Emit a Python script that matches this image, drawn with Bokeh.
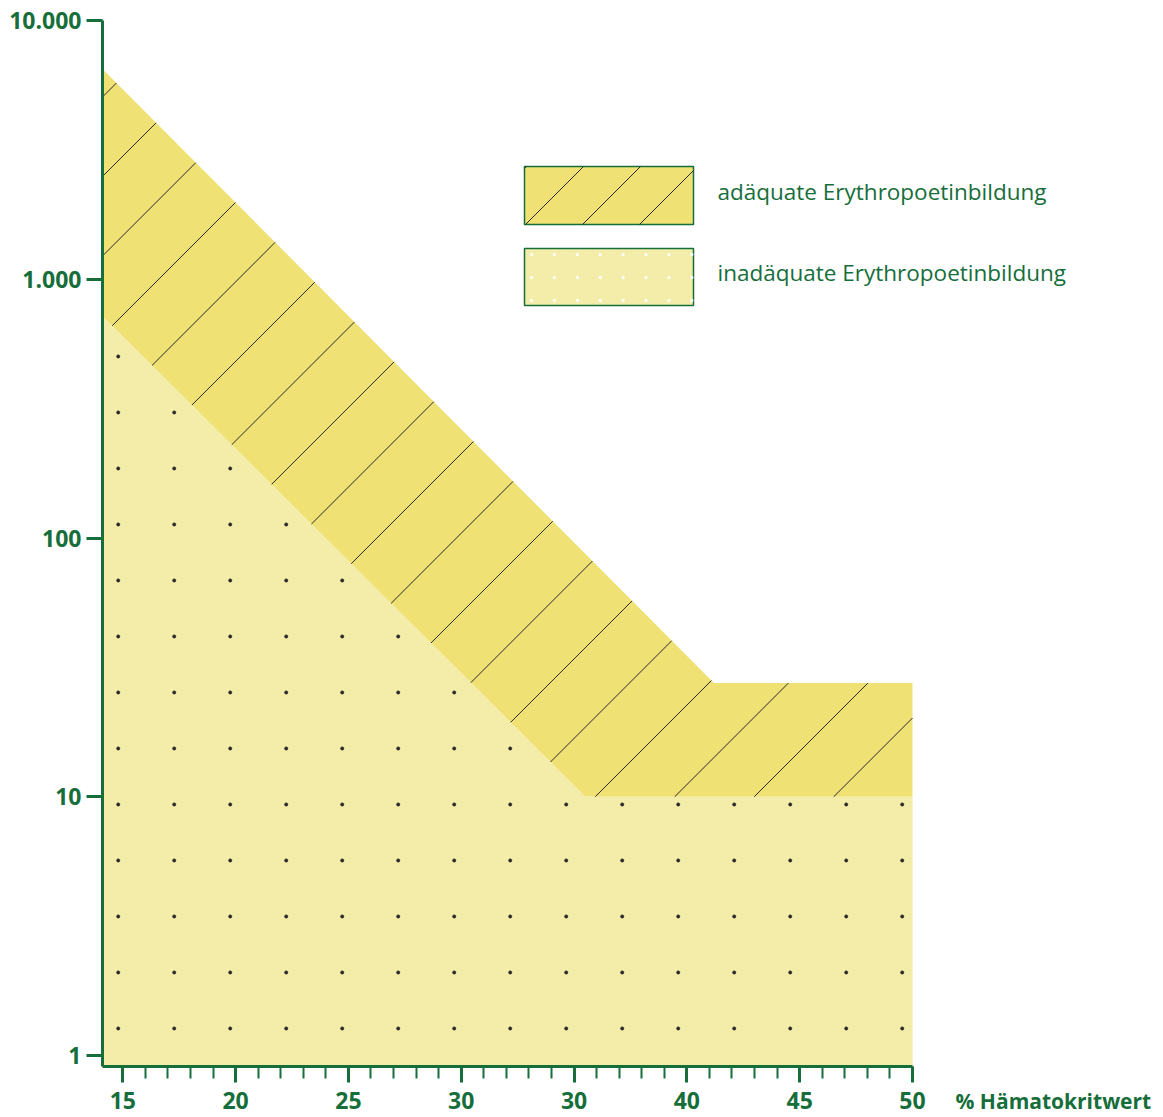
import numpy as np
from bokeh.plotting import figure
from bokeh.models import FixedTicker, Range1d, Label, LinearAxis, LogAxis
from bokeh.embed import file_html
from bokeh.resources import INLINE

# ---------------- data ----------------
hkt_ticks = [15, 20, 25, 30, 35, 40, 45, 50]
hkt_labels = ["15", "20", "25", "30", "30", "40", "45", "50"]
hkt_minor = list(range(15, 51))
epo_ticks = [1, 10, 100, 1000, 10000]
epo_labels = ["1", "10", "100", "1.000", "10.000"]

# upper border of "adäquate" region
upper_hkt = [14.1, 41.2, 50]
upper_epo = [6500, 27.5, 27.5]
# border between "adäquate" and "inadäquate" region
lower_hkt = [14.1, 35.5, 50]
lower_epo = [720, 10, 10]

label_adeq = "adäquate Erythropoetinbildung"
label_inadeq = "inadäquate Erythropoetinbildung"
x_title = "% Hämatokritwert"

X0, X1 = 14.1, 50          # extent of the x axis
Y0, Y1 = 0.907, 10000      # extent of the y axis

# ---------------- style / layout ----------------
GREEN = "#166e3a"
ADEQ = "#efe174"
INADEQ = "#f4eca9"
INK = "#2a2a2a"
FONT = "Open Sans"

W, H = 1160, 1117
AX_LEFT, AX_RIGHT = 102, 912     # page px of X0 and X1
AX_TOP = 20                      # page px of Y1
PX_DEC = 258.75                  # px per decade
px_x = (AX_RIGHT - AX_LEFT) / (X1 - X0)
px_d = PX_DEC
ly0, ly1 = np.log10(Y0), np.log10(Y1)
AX_BOTTOM = AX_TOP + (ly1 - ly0) * px_d

x_view = (X0 - AX_LEFT / px_x, X0 + (W - AX_LEFT) / px_x)
y_view = (10 ** (ly1 - (H - AX_TOP) / px_d), 10 ** (ly1 + AX_TOP / px_d))

p = figure(width=W, height=H, output_backend="svg", toolbar_location=None,
           y_axis_type="log", x_axis_location=None, y_axis_location=None,
           x_range=Range1d(*x_view), y_range=Range1d(*y_view), min_border=0)
p.outline_line_color = None
p.grid.visible = False
p.background_fill_color = "white"
p.border_fill_color = "white"

def fx(px):  # page px -> data x (decoration only)
    return X0 + (np.asarray(px, dtype=float) - AX_LEFT) / px_x
def fy(py):  # page px -> data y (decoration only)
    return 10 ** (ly1 - (np.asarray(py, dtype=float) - AX_TOP) / px_d)

# ---------------- regions ----------------
adeq_x = upper_hkt + lower_hkt[::-1]
adeq_y = upper_epo + lower_epo[::-1]
inad_x = lower_hkt + [X1, X0]
inad_y = lower_epo + [Y0, Y0]
p.patch(adeq_x, adeq_y, fill_color=ADEQ, line_color=None)
p.patch(inad_x, inad_y, fill_color=INADEQ, line_color=None)

# hatch lines (45 degrees on screen) clipped to the "adäquate" region
lu = lambda x: np.interp(x, upper_hkt, np.log10(upper_epo))
ll = lambda x: np.interp(x, lower_hkt, np.log10(lower_epo))
FW = AX_RIGHT - AX_LEFT
FH = AX_BOTTOM - AX_TOP
u = np.linspace(0, FW, 16001)
xu = X0 + u / px_x
hx, hy = [], []
spacing = 79.5
phase = -223.0
for c in np.arange(phase - spacing * 30, FH + spacing, spacing):
    ly = ly0 + (u + c) / px_d
    inside = (ly >= ll(xu)) & (ly <= lu(xu))
    idx = np.where(inside)[0]
    if len(idx) < 2:
        continue
    i0, i1 = idx[0], idx[-1]
    hx.append([xu[i0], xu[i1]])
    hy.append([10 ** ly[i0], 10 ** ly[i1]])
p.multi_line(hx, hy, line_color=INK, line_width=1)

# dot pattern in the "inadäquate" region
du = 15.7 + 56.0 * np.arange(0, 20)
dv = 38.0 + 56.0 * np.arange(0, 25)
dx_, dy_ = [], []
for uu in du:
    if uu > FW - 4:
        continue
    xx = X0 + uu / px_x
    for vv in dv:
        lyy = ly0 + vv / px_d
        if lyy < ll(xx) - 3 / px_d:
            dx_.append(xx)
            dy_.append(10 ** lyy)
p.scatter(dx_, dy_, size=3, color=INK)

# ---------------- legend (drawn by hand) ----------------
LX0, LX1 = 524, 693          # swatch left/right (page px)
B1 = (166, 224)              # swatch 1 top/bottom
B2 = (248, 305)              # swatch 2 top/bottom
TX = 717                     # text start
MID = (191, 272)             # text centres

p.quad(left=[fx(LX0)], right=[fx(LX1)], top=[fy(B1[0])], bottom=[fy(B1[1])],
       fill_color=ADEQ, line_color=GREEN, line_width=1.5)
p.quad(left=[fx(LX0)], right=[fx(LX1)], top=[fy(B2[0])], bottom=[fy(B2[1])],
       fill_color=INADEQ, line_color=GREEN, line_width=1.5)

sx, sy = [], []
for c in np.arange(749 - 57 * 3, 749 + 57 * 4, 57):
    xs = max(LX0, c - B1[1])
    xe = min(LX1, c - B1[0])
    if xe - xs > 0.5:
        sx.append([fx(xs), fx(xe)])
        sy.append([fy(c - xs), fy(c - xe)])
p.multi_line(sx, sy, line_color=INK, line_width=1)

ddx, ddy = [], []
for i in range(8):
    for j in range(3):
        ddx.append(fx(LX0 + 7 + 22.9 * i))
        ddy.append(fy(B2[0] + 6 + 23 * j))
p.scatter(ddx, ddy, size=2.5, color="white", alpha=0.9)

for txt, m in ((label_adeq, MID[0]), (label_inadeq, MID[1])):
    p.add_layout(Label(x=fx(TX), y=fy(m), text=txt, text_baseline="middle",
                       text_align="left", text_font=FONT, text_font_size="22.5px",
                       text_color=GREEN))

# ---------------- axes ----------------
xa = LinearAxis(fixed_location=Y0, bounds=(X0, X1),
                ticker=FixedTicker(ticks=hkt_ticks, minor_ticks=hkt_minor))
xa.major_label_overrides = {t: l for t, l in zip(hkt_ticks, hkt_labels)}
xa.minor_tick_out = 12
xa.major_label_standoff = 10
ya = LogAxis(fixed_location=X0, bounds=(Y0, Y1),
             ticker=FixedTicker(ticks=epo_ticks, minor_ticks=[]))
ya.major_label_overrides = {t: l for t, l in zip(epo_ticks, epo_labels)}
ya.minor_tick_out = 0
ya.major_label_standoff = 5
for ax in (xa, ya):
    ax.axis_line_color = GREEN
    ax.axis_line_width = 3
    ax.major_tick_line_color = GREEN
    ax.major_tick_line_width = 3
    ax.major_tick_out = 16
    ax.major_tick_in = 0
    ax.minor_tick_line_color = GREEN
    ax.minor_tick_line_width = 2
    ax.minor_tick_in = 0
    ax.major_label_text_font = FONT
    ax.major_label_text_font_size = "23px"
    ax.major_label_text_font_style = "bold"
    ax.major_label_text_color = GREEN
p.add_layout(xa, "below")
p.add_layout(ya, "left")

p.add_layout(Label(x=fx(955), y=fy(1100), text=x_title,
                   text_baseline="middle", text_align="left", text_font=FONT,
                   text_font_size="21px", text_font_style="bold", text_color=GREEN))

open("out.html", "w").write(file_html(p, INLINE))
